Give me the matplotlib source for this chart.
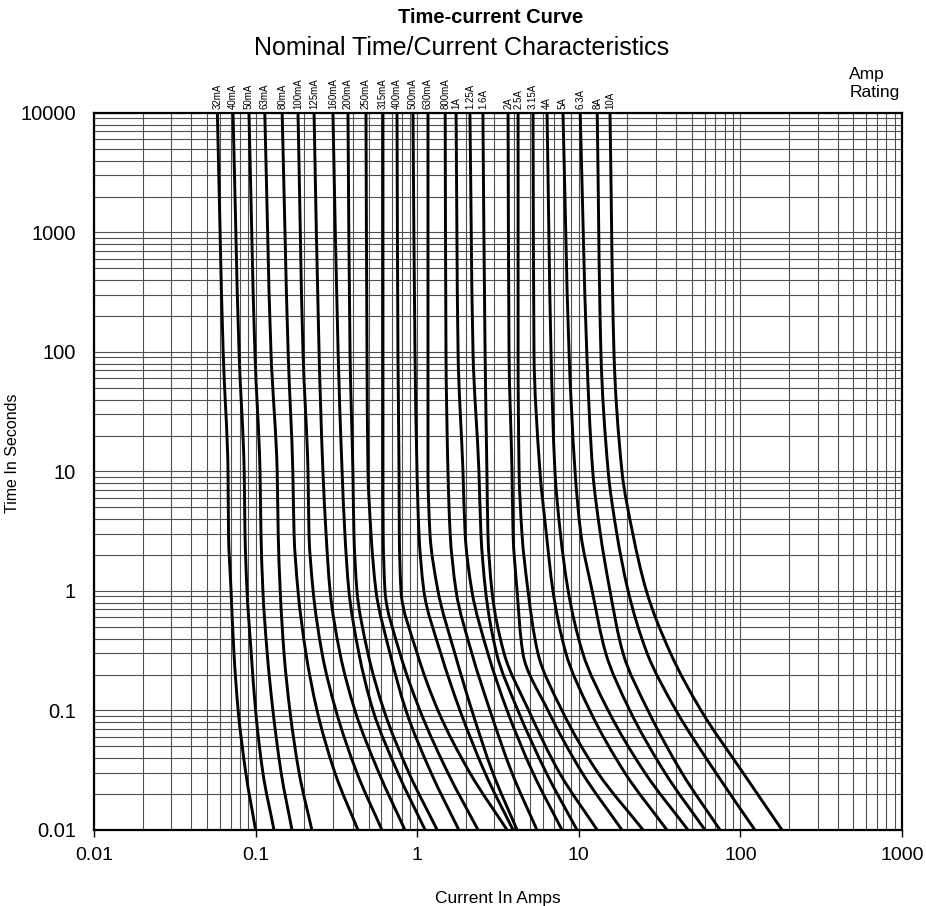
import numpy as np
import matplotlib
matplotlib.use('Agg')
import matplotlib.pyplot as plt
import matplotlib.transforms as mtransforms
from matplotlib.path import Path
from matplotlib.patches import PathPatch

plt.rcParams['font.family'] = ['Liberation Sans', 'DejaVu Sans']

# time levels (s) at which each curve was read
times = [10000, 100, 10, 3, 1, 0.3, 0.1, 0.03, 0.01]

ratings = ['32mA', '40mA', '50mA', '63mA', '80mA', '100mA', '125mA', '160mA',
           '200mA', '250mA', '315mA', '400mA', '500mA', '630mA', '800mA',
           '1A', '1.25A', '1.6A', '2A', '2.5A', '3.15A', '4A', '5A', '6.3A',
           '8A', '10A']

# current (A) for each rating at the time levels above
curve_amps = [
    [0.058, 0.063, 0.0675, 0.068, 0.0705, 0.0735, 0.078, 0.087, 0.100],
    [0.0725, 0.079, 0.085, 0.086, 0.0885, 0.094, 0.100, 0.111, 0.130],
    [0.091, 0.099, 0.1065, 0.108, 0.111, 0.118, 0.128, 0.144, 0.168],
    [0.114, 0.1245, 0.136, 0.138, 0.142, 0.150, 0.163, 0.186, 0.223],
    [0.146, 0.159, 0.170, 0.173, 0.183, 0.205, 0.240, 0.310, 0.430],
    [0.183, 0.1965, 0.211, 0.214, 0.227, 0.258, 0.314, 0.424, 0.605],
    [0.230, 0.247, 0.261, 0.273, 0.289, 0.333, 0.412, 0.580, 0.84],
    [0.301, 0.324, 0.343, 0.357, 0.378, 0.436, 0.533, 0.76, 1.12],
    [0.373, 0.384, 0.40, 0.406, 0.424, 0.496, 0.623, 0.889, 1.33],
    [0.482, 0.489, 0.496, 0.518, 0.556, 0.679, 0.852, 1.22, 1.81],
    [0.614, 0.614, 0.614, 0.616, 0.632, 0.783, 1.04, 1.55, 2.38],
    [0.750, 0.760, 0.772, 0.775, 0.794, 1.0, 1.345, 2.12, 3.6],
    [0.942, 0.969, 0.997, 1.026, 1.10, 1.40, 1.84, 2.63, 3.92],
    [1.166, 1.166, 1.166, 1.20, 1.345, 1.71, 2.18, 2.94, 4.15],
    [1.49, 1.507, 1.55, 1.60, 1.74, 2.18, 2.82, 3.86, 5.51],
    [1.74, 1.79, 1.92, 1.98, 2.18, 2.74, 3.60, 5.21, 7.87],
    [2.12, 2.215, 2.41, 2.48, 2.65, 3.10, 4.20, 6.30, 9.75],
    [2.55, 2.63, 2.70, 2.74, 2.90, 3.45, 4.90, 7.60, 13.0],
    [3.65, 3.70, 3.86, 3.92, 4.15, 4.51, 6.45, 10.5, 18.5],
    [4.21, 4.21, 4.27, 4.45, 4.85, 5.59, 7.87, 13.15, 25.0],
    [5.21, 5.28, 5.75, 6.30, 6.92, 8.33, 11.7, 19.3, 35.1],
    [6.36, 6.73, 7.12, 7.70, 8.60, 10.6, 15.2, 25.7, 47.4],
    [7.98, 8.70, 9.48, 10.3, 12.1, 14.7, 20.7, 34.2, 60.4],
    [10.2, 11.2, 12.2, 13.6, 15.6, 18.8, 26.8, 43.5, 74.8],
    [13.0, 13.7, 15.2, 17.2, 20.2, 26.5, 40.0, 70.6, 123],
    [15.6, 16.5, 18.5, 21.6, 26.2, 37.0, 57.1, 104, 181],
]

x_ticks = [0.01, 0.1, 1, 10, 100, 1000]
x_ticklabels = ['0.01', '0.1', '1', '10', '100', '1000']
y_ticks = [0.01, 0.1, 1, 10, 100, 1000, 10000]
y_ticklabels = ['0.01', '0.1', '1', '10', '100', '1000', '10000']


def smooth_path(amps, secs):
    # monotone cubic (bezier) through the read points, built in log-log space
    lx = np.log10(amps)
    u = -np.log10(secs)
    h = np.diff(u)
    d = np.diff(lx) / h
    m = np.zeros_like(lx)
    m[0] = d[0]
    m[-1] = d[-1]
    for i in range(1, len(lx) - 1):
        if d[i - 1] * d[i] > 0:
            w1 = 2 * h[i] + h[i - 1]
            w2 = h[i] + 2 * h[i - 1]
            m[i] = (w1 + w2) / (w1 / d[i - 1] + w2 / d[i])
    verts = [(lx[0], u[0])]
    codes = [Path.MOVETO]
    for i in range(len(h)):
        verts.append((lx[i] + m[i] * h[i] / 3, u[i] + h[i] / 3))
        verts.append((lx[i + 1] - m[i + 1] * h[i] / 3, u[i + 1] - h[i] / 3))
        verts.append((lx[i + 1], u[i + 1]))
        codes += [Path.CURVE4] * 3
    verts = [(10 ** a, 10 ** (-b)) for a, b in verts]
    return Path(verts, codes)


fig = plt.figure(figsize=(9.26, 9.06), dpi=100)
ax = fig.add_axes([0.1015, 0.0839, 0.8726, 0.7914])

ax.set_xscale('log')
ax.set_yscale('log')
ax.set_xlim(0.01, 1000)
ax.set_ylim(0.01, 10000)

ax.grid(True, which='both', color='#505050', lw=0.8)
ax.set_axisbelow(True)

for amps in curve_amps:
    ax.add_patch(PathPatch(smooth_path(amps, times), fill=False,
                           edgecolor='black', lw=2.1, joinstyle='round',
                           capstyle='butt'))

# rating labels above the top of each curve
trans = mtransforms.blended_transform_factory(ax.transData, ax.transAxes)
for name, amps in zip(ratings, curve_amps):
    ax.text(amps[0], 1.006, name, transform=trans, rotation=90,
            ha='center', va='bottom', fontsize=7)

ax.set_xticks(x_ticks)
ax.set_xticklabels(x_ticklabels, fontsize=14)
ax.set_yticks(y_ticks)
ax.set_yticklabels(y_ticklabels, fontsize=14.5)
ax.tick_params(axis='x', which='major', direction='out', length=5, width=1,
               pad=7)
ax.tick_params(axis='y', which='major', length=0, pad=13)
ax.tick_params(which='minor', length=0)

for s in ax.spines.values():
    s.set_linewidth(1.6)
    s.set_color('black')

ax.set_xlabel('Current In Amps', fontsize=12.5)
ax.xaxis.set_label_coords(0.5, -0.085)
ax.set_ylabel('Time In Seconds', fontsize=11.5)
ax.yaxis.set_label_coords(-0.091, 0.526)

fig.text(0.530, 0.981, 'Time-current Curve', ha='center', va='center',
         fontsize=14.5, fontweight='bold')
fig.text(0.498, 0.947, 'Nominal Time/Current Characteristics', ha='center',
         va='center', fontsize=18)
fig.text(0.917, 0.908, 'Amp\nRating', ha='left', va='center', fontsize=12.5,
         linespacing=1.2)

fig.savefig('out.png', dpi=100)
